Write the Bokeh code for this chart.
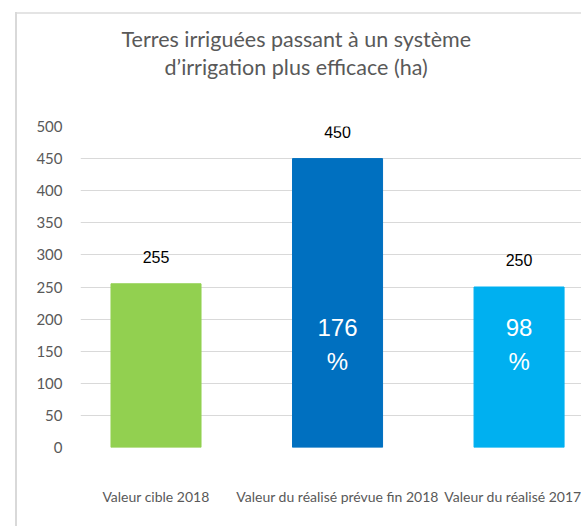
from bokeh.plotting import figure
from bokeh.models import ColumnDataSource, Title, SingleIntervalTicker, Range1d
from bokeh.core.properties import value
from bokeh.embed import file_html
from bokeh.resources import INLINE

# ---- data ----
categories = ["Valeur cible 2018", "Valeur du réalisé prévue fin 2018", "Valeur du réalisé 2017"]
values = [255, 450, 250]
colors = ["#92d050", "#0070c0", "#00b0f0"]
pct_labels = ["", "176\n%", "98\n%"]
title_lines = ["Terres irriguées passant à un système", "d\u2019irrigation plus efficace (ha)"]

idx = list(range(len(categories)))
src = ColumnDataSource(dict(x=idx, top=values, color=colors,
                            lab=[str(v) for v in values], pct=pct_labels,
                            pct_y=[160] * len(values)))

W, H = 581, 526
p = figure(width=W, height=H, output_backend="svg", toolbar_location=None,
           x_range=Range1d(-0.416, 2.344), y_range=Range1d(0, 500),
           min_border_left=80, min_border_right=0, min_border_top=126, min_border_bottom=79)
p.outline_line_color = None
p.background_fill_color = "white"
p.border_fill_color = None
p.styles = {
    "background": ("linear-gradient(#d9d9d9,#d9d9d9) 15px 12px / 2px 100% no-repeat, "
                   "linear-gradient(#e4e4e4,#e4e4e4) 15px 12px / 100% 2px no-repeat, white"),
}

p.vbar(x="x", top="top", width=0.496, color="color", source=src)

p.text(x="x", y="top", text="lab", source=src, text_align="center", text_baseline="middle",
       y_offset=-27, text_font=value("Liberation Sans"), text_font_size="16px", text_color="black")
p.text(x="x", y="pct_y", text="pct", source=src, text_align="center", text_baseline="middle",
       text_font=value("Liberation Sans"), text_font_size="24px", text_color="white",
       text_line_height=1.25)

# axes
p.yaxis.ticker = SingleIntervalTicker(interval=50)
p.yaxis.axis_line_color = None
p.yaxis.major_tick_line_color = None
p.yaxis.minor_tick_line_color = None
p.yaxis.major_label_standoff = 12
p.yaxis.major_label_text_font = "Lato"
p.yaxis.major_label_text_font_size = "15px"
p.yaxis.major_label_text_color = "#595959"

p.xaxis.ticker = idx
p.xaxis.major_label_overrides = {i: c for i, c in zip(idx, categories)}
p.xaxis.axis_line_color = None
p.xaxis.major_tick_line_color = None
p.xaxis.minor_tick_line_color = None
p.xaxis.major_label_standoff = 34
p.xaxis.major_label_text_font = "Lato"
p.xaxis.major_label_text_font_size = "14px"
p.xaxis.major_label_text_color = "#595959"

p.xgrid.grid_line_color = None
p.ygrid.grid_line_color = "#d9d9d9"
p.ygrid.grid_line_width = 1

# spacer between frame and title block
p.add_layout(Title(text="\u00a0", standoff=44, text_font_size="1px", text_color="white"), "above")
# title: two lines, stacked above the frame
p.add_layout(Title(text=title_lines[1], align="left", offset=84, standoff=0,
                   text_font="Lato", text_font_size="21.5px", text_color="#595959",
                   text_font_style="normal"), "above")
p.add_layout(Title(text=title_lines[0], align="left", offset=41, standoff=0,
                   text_font="Lato", text_font_size="21.5px", text_color="#595959",
                   text_font_style="normal"), "above")

open("out.html", "w").write(file_html(p, INLINE))
